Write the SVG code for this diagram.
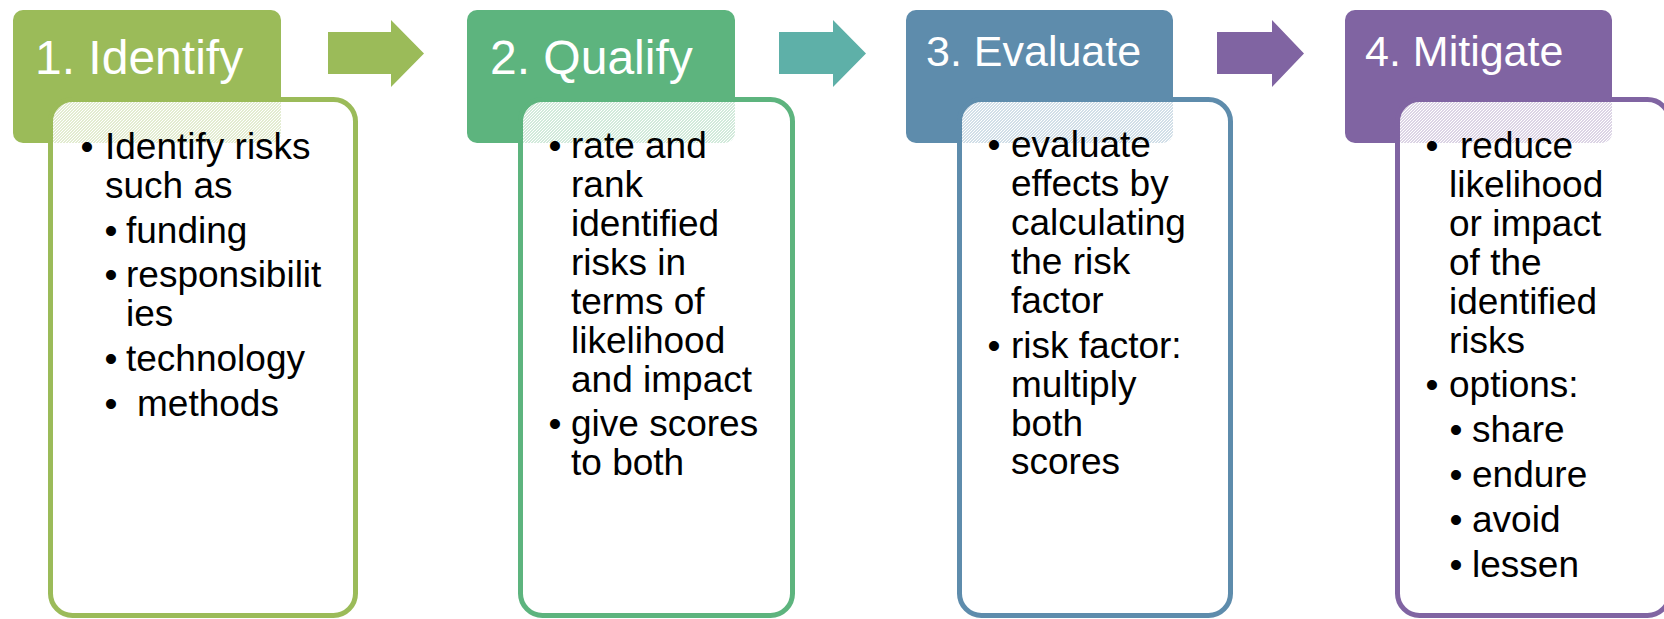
<svg xmlns="http://www.w3.org/2000/svg" width="1664" height="619" viewBox="0 0 1664 619">
  <defs>
    <!-- light stipple used as the card fill, so the header colour shows through faintly -->
    <pattern id="stipple" width="3" height="3" patternUnits="userSpaceOnUse">
      <rect width="3" height="3" fill="#ffffff" fill-opacity="0.72"/>
      <rect x="0" y="0" width="1" height="1" fill="#ffffff"/>
      <rect x="2" y="1" width="1" height="1" fill="#ffffff"/>
      <rect x="1" y="2" width="1" height="1" fill="#ffffff"/>
    </pattern>
  </defs>
  <style>
    .title { font-family: "Liberation Sans", Arial, sans-serif; fill: #ffffff; }
    .body { font-family: "Liberation Sans", Arial, sans-serif; font-size: 37px; fill: #000000; }
    .dot { text-anchor: middle; }
    .card { fill: url(#stipple); stroke-width: 5; }
  </style>
  <rect width="1664" height="619" fill="#ffffff"/>

  <!-- step arrows between the headers -->
  <g id="connectors">
    <polygon points="328,32 391,32 391,20 424,53.5 391,87 391,74 328,74" fill="#9BBB59"/>
    <polygon points="779,32 833,32 833,20 866,53.5 833,87 833,74 779,74" fill="#5EB0A8"/>
    <polygon points="1217,32 1272,32 1272,20 1304,53.5 1272,87 1272,74 1217,74" fill="#8064A2"/>
  </g>

  <!-- 1. Identify -->
  <g id="step-identify">
    <rect x="13" y="10" width="268" height="133" rx="10" fill="#9BBB59"/>
    <text class="title" x="35" y="74" font-size="48">1. Identify</text>
    <rect class="card" x="50.5" y="99.5" width="305" height="516" rx="22" stroke="#9BBB59"/>
    <g class="body">
      <text class="dot" x="87" y="159">•</text>
      <text x="105" y="159">Identify risks</text>
      <text x="105" y="198">such as</text>
      <text class="dot" x="111" y="243">•</text>
      <text x="126" y="243">funding</text>
      <text class="dot" x="111" y="287">•</text>
      <text x="126" y="287">responsibilit</text>
      <text x="126" y="326">ies</text>
      <text class="dot" x="111" y="371">•</text>
      <text x="126" y="371">technology</text>
      <text class="dot" x="111" y="416">•</text>
      <text x="137" y="416">methods</text>
    </g>
  </g>

  <!-- 2. Qualify -->
  <g id="step-qualify">
    <rect x="467" y="10" width="268" height="133" rx="10" fill="#5DB47E"/>
    <text class="title" x="490" y="74" font-size="48">2. Qualify</text>
    <rect class="card" x="520.5" y="99.5" width="272" height="516" rx="22" stroke="#5DB47E"/>
    <g class="body">
      <text class="dot" x="555" y="158">•</text>
      <text x="571" y="158">rate and</text>
      <text x="571" y="197">rank</text>
      <text x="571" y="236">identified</text>
      <text x="571" y="275">risks in</text>
      <text x="571" y="314">terms of</text>
      <text x="571" y="353">likelihood</text>
      <text x="571" y="392">and impact</text>
      <text class="dot" x="555" y="436">•</text>
      <text x="571" y="436">give scores</text>
      <text x="571" y="475">to both</text>
    </g>
  </g>

  <!-- 3. Evaluate -->
  <g id="step-evaluate">
    <rect x="906" y="10" width="267" height="133" rx="10" fill="#5E8CAC"/>
    <text class="title" x="926" y="66" font-size="43">3. Evaluate</text>
    <rect class="card" x="959.5" y="99.5" width="271" height="516" rx="22" stroke="#5E8CAC"/>
    <g class="body">
      <text class="dot" x="994" y="157">•</text>
      <text x="1011" y="157">evaluate</text>
      <text x="1011" y="196">effects by</text>
      <text x="1011" y="235">calculating</text>
      <text x="1011" y="274">the risk</text>
      <text x="1011" y="313">factor</text>
      <text class="dot" x="994" y="358">•</text>
      <text x="1011" y="358">risk factor:</text>
      <text x="1011" y="397">multiply</text>
      <text x="1011" y="436">both</text>
      <text x="1011" y="474">scores</text>
    </g>
  </g>

  <!-- 4. Mitigate -->
  <g id="step-mitigate">
    <rect x="1345" y="10" width="267" height="133" rx="10" fill="#8064A2"/>
    <text class="title" x="1365" y="66" font-size="43">4. Mitigate</text>
    <rect class="card" x="1397.5" y="99.5" width="272" height="516" rx="22" stroke="#8064A2"/>
    <g class="body">
      <text class="dot" x="1432" y="158">•</text>
      <text x="1460" y="158">reduce</text>
      <text x="1449" y="197">likelihood</text>
      <text x="1449" y="236">or impact</text>
      <text x="1449" y="275">of the</text>
      <text x="1449" y="314">identified</text>
      <text x="1449" y="353">risks</text>
      <text class="dot" x="1432" y="397">•</text>
      <text x="1449" y="397">options:</text>
      <text class="dot" x="1456" y="442">•</text>
      <text x="1472" y="442">share</text>
      <text class="dot" x="1456" y="487">•</text>
      <text x="1472" y="487">endure</text>
      <text class="dot" x="1456" y="532">•</text>
      <text x="1472" y="532">avoid</text>
      <text class="dot" x="1456" y="577">•</text>
      <text x="1472" y="577">lessen</text>
    </g>
  </g>
</svg>
